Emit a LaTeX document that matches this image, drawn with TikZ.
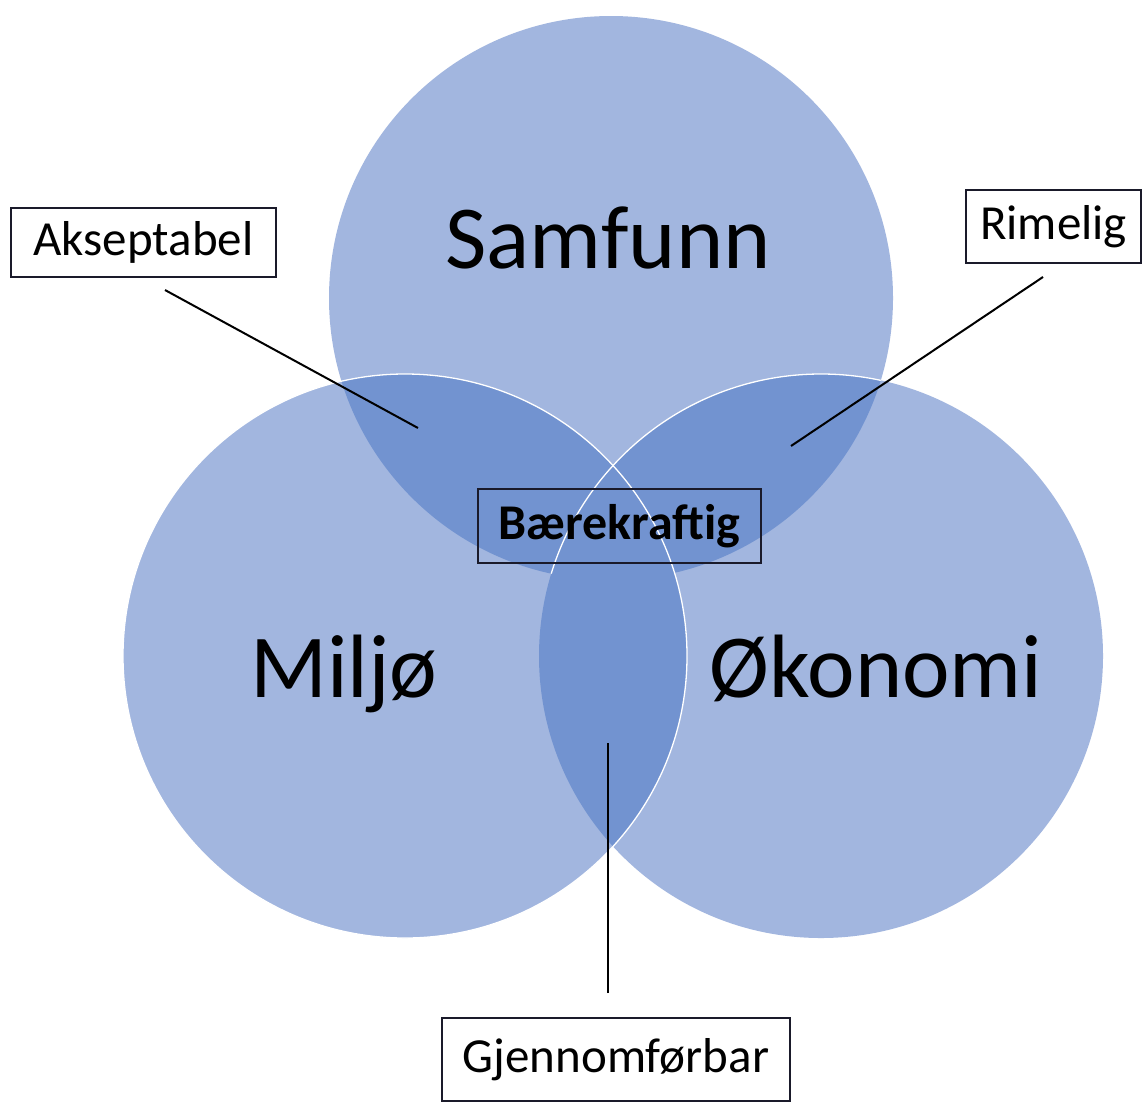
\documentclass[tikz,border=0pt]{standalone}
\usepackage{fontspec}
\setmainfont{Carlito}
\definecolor{basecol}{HTML}{A2B6DF}
\definecolor{darkcol}{HTML}{7293D0}
\definecolor{boxline}{HTML}{1A1A2A}
\begin{document}
\begin{tikzpicture}[x=1pt,y=-1pt,
  bigtext/.style={font=\fontsize{90}{100}\selectfont, text=black, anchor=base, inner sep=0pt},
  labelbox/.style={draw=boxline, line width=2pt, fill=white, inner sep=0pt,
    font=\fontsize{49}{58}\selectfont, text=black},
  connector/.style={draw=black, line width=2pt}]
\useasboundingbox (0,0) rectangle (1142,1104);
\fill[white] (0,0) rectangle (1142,1104);
\coordinate (cS) at (611,298);
\coordinate (cM) at (405,656);
\coordinate (cO) at (821,656);
% base circles
\fill[basecol] (cS) circle[radius=282pt];
\fill[basecol] (cM) circle[radius=282pt];
\fill[basecol] (cO) circle[radius=282pt];
% overlaps
\begin{scope}
  \clip (cS) circle[radius=282pt];
  \fill[darkcol] (cM) circle[radius=282pt];
  \fill[darkcol] (cO) circle[radius=282pt];
\end{scope}
\begin{scope}
  \clip (cM) circle[radius=282pt];
  \fill[darkcol] (cO) circle[radius=282pt];
\end{scope}
% white outlines
\draw[white, line width=1.3pt] (cM) circle[radius=282pt];
\begin{scope}
  \clip (cS) circle[radius=282pt];
  \draw[white, line width=1.3pt] (cO) circle[radius=282pt];
\end{scope}
% big labels
\node[bigtext] (samfunn) at (608,268) {Samfunn};
\node[bigtext] (miljo) at (344,697) {Miljø};
\node[bigtext] (okonomi) at (876,697) {Økonomi};
% label boxes
\node[labelbox, minimum width=265pt, minimum height=69pt] (aks) at (143.5,242.5) {Akseptabel};
\node[labelbox, minimum width=175pt, minimum height=73pt] (rim) at (1053.5,226.5) {Rimelig};
\node[labelbox, minimum width=348pt, minimum height=83pt] (gjen) at (616,1059.5) {Gjennomførbar};
\node[draw=boxline, line width=2pt, inner sep=0pt, minimum width=283pt, minimum height=74pt,
  font=\fontsize{50}{58}\selectfont\bfseries, text=black] (baer) at (619.5,526) {Bærekraftig};
% connector ends
\coordinate (aksEnd) at (418,428);
\coordinate (rimEnd) at (791,446);
\coordinate (gjenEnd) at (608,743);
\coordinate (aksStart) at (165,290);
\coordinate (rimStart) at (1043,277);
\coordinate (gjenStart) at (608,993);
\draw[connector] (aksStart) -- (aksEnd);
\draw[connector] (rimStart) -- (rimEnd);
\draw[connector] (gjenStart) -- (gjenEnd);
\end{tikzpicture}
\end{document}
